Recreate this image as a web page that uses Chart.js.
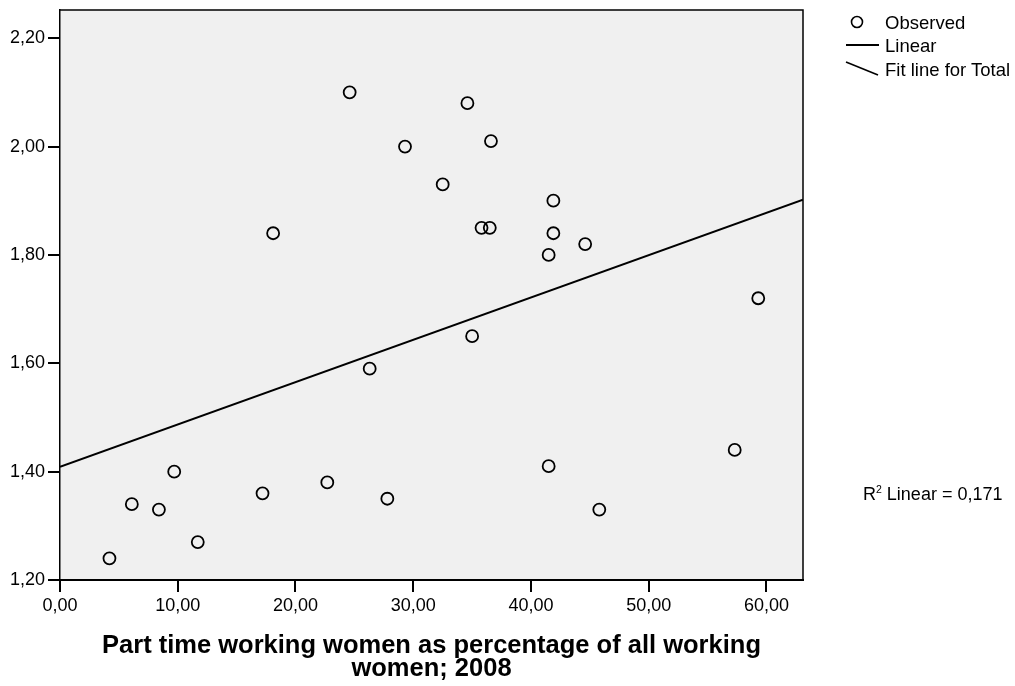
<!DOCTYPE html>
<html>
<head>
<meta charset="utf-8">
<script src="https://cdn.jsdelivr.net/npm/chart.js@4.4.1/dist/chart.umd.min.js"></script>
<style>
body { margin: 0; background: #fff; font-family: "Liberation Sans", Arial, sans-serif; }
#wrap { position: relative; width: 1015px; height: 686px; }
.txt { position: absolute; font-size: 18.5px; line-height: 20px; color: #000; white-space: nowrap; }
svg { position: absolute; left: 0; top: 0; }
</style>
</head>
<body>
<div id="wrap">
    <canvas id="grafico" width="1015" height="686"></canvas>
    <svg width="1015" height="686">
        <circle cx="857" cy="22" r="5.5" fill="none" stroke="#000" stroke-width="1.6"/>
        <line x1="846" y1="45" x2="879" y2="45" stroke="#000" stroke-width="2"/>
        <line x1="846" y1="62" x2="878" y2="75" stroke="#000" stroke-width="1.6"/>
    </svg>
    <div class="txt" style="left:885px;top:13px">Observed</div>
    <div class="txt" style="left:885px;top:36px">Linear</div>
    <div class="txt" style="left:885px;top:60px">Fit line for Total</div>
    <div class="txt" style="left:863px;top:484px;font-size:18px">R<sup style="font-size:10.5px;vertical-align:7px;line-height:0">2</sup> Linear = 0,171</div>
</div>
<script>
// datos
const obsX = [4.2, 6.1, 8.4, 9.7, 11.7, 17.2, 18.1, 22.7, 24.6, 26.3, 27.8, 29.3, 32.5,
    34.6, 35.0, 35.8, 36.5, 36.6, 41.5, 41.5, 41.9, 41.9, 44.6, 45.8, 57.3, 59.3];
const obsY = [1.24, 1.34, 1.33, 1.40, 1.27, 1.36, 1.84, 1.38, 2.10, 1.59, 1.35, 2.00, 1.93,
    2.08, 1.65, 1.85, 1.85, 2.01, 1.80, 1.41, 1.90, 1.84, 1.82, 1.33, 1.44, 1.72];
const fitX = [0, 63.1];
const fitY = [1.409, 1.902];
const xTicks = [0, 10, 20, 30, 40, 50, 60];
const yTicks = [1.2, 1.4, 1.6, 1.8, 2.0, 2.2];
const xTitulo = ['Part time working women as percentage of all working', 'women; 2008'];

const fuente = '"Liberation Sans", Arial, sans-serif';

function coma(v) {
    return Number(v).toFixed(2).replace('.', ',');
}

// fondo gris y marco del area
const marco = {
    id: 'marco',
    beforeDraw(chart) {
        const a = chart.chartArea;
        const ctx = chart.ctx;
        ctx.save();
        ctx.fillStyle = '#f0f0f0';
        ctx.fillRect(a.left, a.top, a.right - a.left, a.bottom - a.top);
        ctx.restore();
    },
    afterDraw(chart) {
        const a = chart.chartArea;
        const ctx = chart.ctx;
        ctx.save();
        ctx.strokeStyle = '#000';
        ctx.lineWidth = 1.5;
        ctx.beginPath();
        ctx.moveTo(a.left, a.top);
        ctx.lineTo(a.right, a.top);
        ctx.lineTo(a.right, a.bottom);
        ctx.stroke();
        ctx.restore();
    }
};

const puntos = obsX.map((x, i) => ({ x: x, y: obsY[i] }));
const linea = fitX.map((x, i) => ({ x: x, y: fitY[i] }));

new Chart(document.getElementById('grafico'), {
    type: 'scatter',
    data: {
        datasets: [{
            label: 'Observed',
            data: puntos,
            pointRadius: 6,
            pointBorderWidth: 1.8,
            pointBorderColor: '#000',
            pointBackgroundColor: 'rgba(0,0,0,0)'
        }, {
            label: 'Linear',
            type: 'line',
            data: linea,
            borderColor: '#000',
            borderWidth: 2,
            pointRadius: 0,
            fill: false
        }]
    },
    options: {
        responsive: false,
        animation: false,
        layout: { padding: { left: 0, right: 212, top: 10, bottom: 0 } },
        plugins: { legend: { display: false }, tooltip: { enabled: false } },
        scales: {
            x: {
                type: 'linear',
                min: 0,
                max: 63.1,
                afterBuildTicks: s => { s.ticks = xTicks.map(v => ({ value: v })); },
                afterFit: s => { s.height = 106; s.paddingLeft = 0; s.paddingRight = 0; },
                ticks: {
                    callback: coma,
                    color: '#000',
                    padding: 3,
                    maxRotation: 0,
                    autoSkip: false,
                    font: { family: fuente, size: 18 }
                },
                grid: { drawOnChartArea: false, tickLength: 12, color: '#000', lineWidth: 2 },
                border: { color: '#000', width: 2 },
                title: {
                    display: true,
                    text: xTitulo,
                    color: '#000',
                    padding: { top: 0, bottom: 6 },
                    font: { family: fuente, size: 25.5, weight: 'bold', lineHeight: '23px' }
                }
            },
            y: {
                type: 'linear',
                min: 1.2,
                max: 2.252,
                afterBuildTicks: s => { s.ticks = yTicks.map(v => ({ value: v })); },
                afterFit: s => { s.width = 60; s.paddingTop = 0; s.paddingBottom = 0; },
                ticks: {
                    callback: coma,
                    color: '#000',
                    padding: 3,
                    autoSkip: false,
                    font: { family: fuente, size: 18 }
                },
                grid: { drawOnChartArea: false, tickLength: 12, color: '#000', lineWidth: 2 },
                border: { color: '#000', width: 1.5 }
            }
        }
    },
    plugins: [marco]
});
</script>
</body>
</html>
